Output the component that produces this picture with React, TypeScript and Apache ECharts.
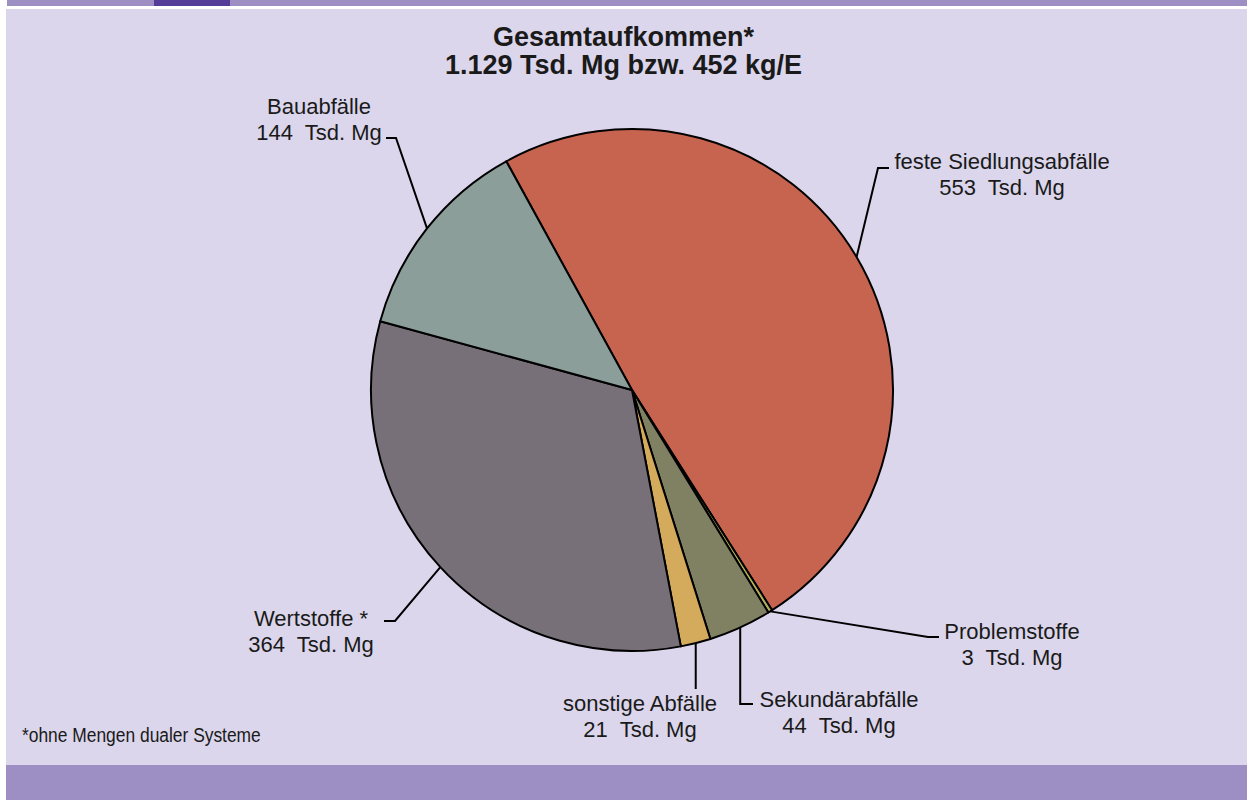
import React, { useEffect, useRef } from "react";
import * as echarts from "echarts";

const categories = [
  "feste Siedlungsabfälle",
  "Problemstoffe",
  "Sekundärabfälle",
  "sonstige Abfälle",
  "Wertstoffe *",
  "Bauabfälle",
];
const values = [553, 3, 44, 21, 364, 144];
const unit = "Tsd. Mg";
const titleLines = ["Gesamtaufkommen*", "1.129 Tsd. Mg bzw. 452 kg/E"];
const footnote = "*ohne Mengen dualer Systeme";

const sliceColors = ["#c7644f", "#b3b05a", "#808062", "#d4aa5c", "#787078", "#8c9e99"];

// label placement (position / leader-line turning points), styling only
const labelPos: { x: number; y: number }[] = [
  { x: 1002, y: 174 },
  { x: 1012, y: 644 },
  { x: 839, y: 712 },
  { x: 640, y: 716 },
  { x: 311, y: 631 },
  { x: 319, y: 119 },
];

function leader(i: number, a: number[]): number[][] {
  switch (i) {
    case 0:
      return [a, [878, 168], [889, 168]];
    case 1:
      return [a, [928, 637], [939, 637]];
    case 2:
      return [a, [a[0], 704], [753, 704]];
    case 3:
      return [a, [a[0], 689], [a[0], 689]];
    case 4:
      return [a, [395, 621], [384, 621]];
    default:
      return [a, [396, 138], [386, 138]];
  }
}

export default function App() {
  const ref = useRef<HTMLDivElement>(null);
  useEffect(() => {
    if (!ref.current) return;
    const chart = echarts.init(ref.current, undefined, { renderer: "svg" });
    const font = "'Liberation Sans', Arial, Helvetica, sans-serif";
    chart.setOption({
      animation: false,
      backgroundColor: "#ffffff",
      title: {
        text: titleLines.join("\n"),
        left: "center",
        top: 23,
        padding: 0,
        textStyle: {
          fontFamily: font,
          fontSize: 27,
          fontWeight: "bold",
          lineHeight: 28,
          color: "#1a1a1a",
        },
      },
      graphic: [
        { type: "rect", z: -10, shape: { x: 7, y: 0, width: 1240, height: 6 }, style: { fill: "#9d8ec3" } },
        { type: "rect", z: -9, shape: { x: 154, y: 0, width: 76, height: 6 }, style: { fill: "#553c99" } },
        { type: "rect", z: -10, shape: { x: 6, y: 9, width: 1241, height: 756 }, style: { fill: "#dbd6eb" } },
        { type: "rect", z: -10, shape: { x: 6, y: 765, width: 1241, height: 35 }, style: { fill: "#9d8ec3" } },
        {
          type: "text",
          x: 22,
          y: 735,
          scaleX: 0.87,
          style: {
            text: footnote,
            fontFamily: font,
            fontSize: 20,
            fill: "#1a1a1a",
            verticalAlign: "middle",
          },
        },
      ],
      series: [
        {
          type: "pie",
          center: [632, 390],
          radius: 261,
          startAngle: 118.8,
          clockwise: true,
          avoidLabelOverlap: false,
          minAngle: 0,
          itemStyle: { borderColor: "#000000", borderWidth: 2 },
          label: {
            show: true,
            position: "outside",
            formatter: (p: any) => `${p.name}\n${p.value}  ${unit}`,
            fontFamily: font,
            fontSize: 22,
            lineHeight: 26,
            color: "#1a1a1a",
            align: "center",
          },
          labelLine: {
            show: true,
            length: 20,
            length2: 10,
            lineStyle: { color: "#000000", width: 2 },
          },
          labelLayout: (params: any) => {
            const i = params.dataIndex;
            const p = labelPos[i];
            const a = params.labelLinePoints ? params.labelLinePoints[0] : [0, 0];
            return {
              x: p.x,
              y: p.y,
              align: "center",
              verticalAlign: "middle",
              labelLinePoints: leader(i, a),
            };
          },
          data: categories.map((name, i) => ({
            name,
            value: values[i],
            itemStyle: { color: sliceColors[i] },
          })),
        },
      ],
    });
    return () => chart.dispose();
  }, []);
  return (
    <div
      ref={ref}
      style={{ position: "fixed", left: 0, top: 0, width: 1247, height: 800 }}
    />
  );
}
